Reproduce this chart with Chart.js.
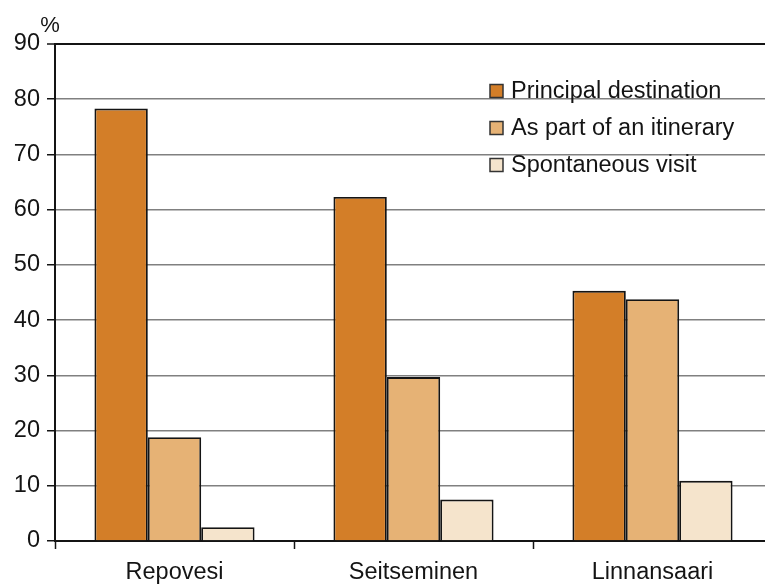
<!DOCTYPE html>
<html>
<head>
<meta charset="utf-8">
<script src="https://cdn.jsdelivr.net/npm/chart.js@4/dist/chart.umd.min.js"></script>
<style>
  html, body { margin: 0; padding: 0; background: #fff; overflow: hidden; }
  #wrap { width: 765px; height: 584px; overflow: hidden; }
</style>
</head>
<body>
<div id="wrap"><canvas id="visitChart" width="775" height="584"></canvas></div>
<script>
// categories and series
const parks = ['Repovesi', 'Seitseminen', 'Linnansaari'];
const principalData = [78.3, 62.3, 45.3];
const itineraryData = [18.8, 29.7, 43.8];
const spontaneousData = [2.5, 7.5, 10.9];
const seriesNames = ['Principal destination', 'As part of an itinerary', 'Spontaneous visit'];

const FONT = '"Liberation Sans", Arial, sans-serif';
const INK = '#141414';

// legend sits inside the plot, plus the "%" unit label above the y axis
const extrasPlugin = {
  id: 'extras',
  afterDraw(chart) {
    const ctx = chart.ctx;
    ctx.save();
    ctx.font = '22px ' + FONT;
    ctx.fillStyle = INK;
    ctx.textAlign = 'center';
    ctx.textBaseline = 'middle';
    ctx.fillText('%', 50, 26);

    ctx.font = '23.5px ' + FONT;
    ctx.textAlign = 'left';
    chart.data.datasets.forEach((ds, i) => {
      const cy = 91 + i * 37;
      ctx.fillStyle = ds.backgroundColor;
      ctx.fillRect(490, cy - 6.5, 13, 13);
      ctx.strokeStyle = '#333';
      ctx.lineWidth = 1.5;
      ctx.strokeRect(490, cy - 6.5, 13, 13);
      ctx.fillStyle = INK;
      ctx.fillText(ds.label, 511, cy + 1);
    });
    ctx.restore();
  }
};

const ctx = document.getElementById('visitChart').getContext('2d');

new Chart(ctx, {
  type: 'bar',
  data: {
    labels: parks,
    datasets: [
      {
        label: seriesNames[0],
        data: principalData,
        backgroundColor: '#D37E28',
        borderColor: INK,
        borderWidth: 1.9,
        categoryPercentage: 0.67,
        barPercentage: 1.0
      },
      {
        label: seriesNames[1],
        data: itineraryData,
        backgroundColor: '#E6B275',
        borderColor: INK,
        borderWidth: 1.9,
        categoryPercentage: 0.67,
        barPercentage: 1.0
      },
      {
        label: seriesNames[2],
        data: spontaneousData,
        backgroundColor: '#F5E4CC',
        borderColor: INK,
        borderWidth: 1.9,
        categoryPercentage: 0.67,
        barPercentage: 1.0
      }
    ]
  },
  options: {
    responsive: false,
    animation: false,
    layout: {
      padding: { top: 44, right: 3, bottom: 0, left: 0 }
    },
    scales: {
      x: {
        offset: true,
        grid: {
          offset: true,
          drawOnChartArea: false,
          drawTicks: true,
          tickLength: 8,
          tickColor: INK,
          tickWidth: 1.5
        },
        border: { color: INK, width: 2 },
        ticks: {
          color: INK,
          padding: 9,
          font: { family: FONT, size: 23.5 }
        },
        afterFit(scale) { scale.height = 43; }
      },
      y: {
        min: 0,
        max: 90,
        ticks: {
          stepSize: 10,
          color: INK,
          padding: 7,
          font: { family: FONT, size: 23.5 }
        },
        grid: {
          color: (c) => (c.tick && c.tick.value === 90 ? INK : '#808080'),
          lineWidth: (c) => (c.tick && c.tick.value === 90 ? 2 : 1.5),
          tickLength: 8,
          tickColor: INK,
          tickWidth: 1.5
        },
        border: { color: INK, width: 2 },
        afterFit(scale) { scale.width = 55; }
      }
    },
    plugins: {
      legend: { display: false },
      tooltip: { enabled: false }
    }
  },
  plugins: [extrasPlugin]
});
</script>
</body>
</html>
